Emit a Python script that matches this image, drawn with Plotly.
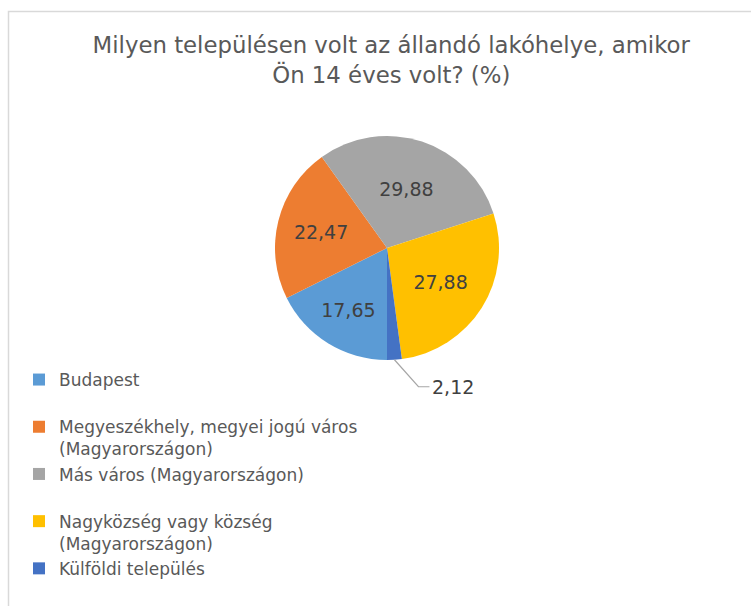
import math
import plotly.graph_objects as go

# ---- data ----
title_lines = ["Milyen településen volt az állandó lakóhelye, amikor", "Ön 14 éves volt? (%)"]
categories = [
    "Budapest",
    "Megyeszékhely, megyei jogú város<br>(Magyarországon)",
    "Más város (Magyarországon)",
    "Nagyközség vagy község<br>(Magyarországon)",
    "Külföldi település",
]
values = [17.65, 22.47, 29.88, 27.88, 2.12]
colors = ["#5B9BD5", "#ED7D31", "#A5A5A5", "#FFC000", "#4472C4"]

W, H = 751, 606
FONT = "DejaVu Sans"

# pie geometry (pixels)
cx, cy, r = 387, 248, 112
dom_x = [(cx - r) / W, (cx + r) / W]
dom_y = [1 - (cy + r) / H, 1 - (cy - r) / H]

# legend labels: pad single-line ones to 2 lines (Excel-like slot height)
legend_labels = [c if "<br>" in c else c + "<br> " for c in categories]

textpos = ["inside"] * (len(values) - 1) + ["none"]

fig = go.Figure(go.Pie(
    labels=legend_labels,
    values=values,
    sort=False,
    direction="clockwise",
    rotation=180,
    marker=dict(colors=colors, line=dict(width=0)),
    texttemplate="%{value:.2f}",
    textposition=textpos,
    insidetextorientation="horizontal",
    textfont=dict(family=FONT, size=19, color="#404040"),
    domain=dict(x=dom_x, y=dom_y),
    hoverinfo="label+value",
))

def px(x):
    return x / W

def py(y):
    return 1 - y / H

# leader line + label for the small last slice, derived from its angle
total = sum(values)
start = 180.0
cum = sum(values[:-1])
mid_frac = (cum + values[-1] / 2) / total
ang = math.radians(start + mid_frac * 360)  # clockwise from 12 o'clock
ex = cx + r * math.sin(ang)
ey = cy - r * math.cos(ang)
bx, by = ex + 24, ey + 27
tx = bx + 11

fig.add_shape(type="path", xref="paper", yref="paper",
              path=f"M {px(ex)} {py(ey)} L {px(bx)} {py(by)} L {px(tx)} {py(by)}",
              line=dict(color="#A6A6A6", width=1.2))
fig.add_annotation(xref="paper", yref="paper", x=px(tx + 1), y=py(by),
                   xanchor="left", yanchor="middle", showarrow=False,
                   text=f"{values[-1]:.2f}".replace(".", ","),
                   font=dict(family=FONT, size=19, color="#404040"))

# chart border
fig.add_shape(type="rect", xref="paper", yref="paper",
              x0=px(8.5), y0=py(H + 20), x1=px(W + 20), y1=py(11.5),
              line=dict(color="#D9D9D9", width=1.5), fillcolor="rgba(0,0,0,0)")

fig.update_layout(
    width=W, height=H,
    margin=dict(l=0, r=0, t=0, b=0, autoexpand=False),
    paper_bgcolor="white",
    plot_bgcolor="white",
    separators=", ",
    title=dict(text="<br>".join(title_lines), x=0.521, xanchor="center",
               y=py(53), yanchor="middle", yref="container", xref="container",
               font=dict(family=FONT, size=22.8, color="#595959")),
    legend=dict(x=px(19), xanchor="left", y=py(362), yanchor="top",
                xref="container", yref="container",
                valign="top", font=dict(family=FONT, size=17, color="#595959"),
                bgcolor="rgba(0,0,0,0)", tracegroupgap=0),
    showlegend=True,
)

fig.write_html("out.html", config={"displayModeBar": False},
               post_script="document.body.style.margin='0';")
